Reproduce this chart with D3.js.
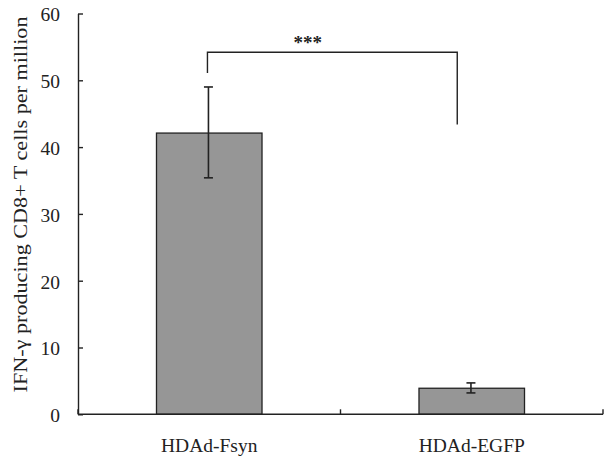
<!DOCTYPE html>
<html>
<head>
<meta charset="utf-8">
<script src="https://cdn.jsdelivr.net/npm/d3@7"></script>
<style>
  html, body { margin: 0; padding: 0; background: #fff; }
  svg { display: block; }
  text { font-family: "Liberation Serif", "Times New Roman", serif; fill: #222; }
</style>
</head>
<body>
<svg id="chart" width="609" height="460"></svg>
<script>
// ---- data ----
const categories = ["HDAd-Fsyn", "HDAd-EGFP"];
const means = [42.1, 3.9];
const errUpper = [49.0, 4.7];
const errLower = [35.4, 3.2];
const yTicks = [0, 10, 20, 30, 40, 50, 60];
const yLabel = "IFN-\u03b3 producing CD8+ T cells per million";
// significance bracket (values in data units)
const bracketTop = 54.2;
const bracketLeftEnd = 51.1;
const bracketRightEnd = 43.4;
const bracketLabel = "***";

(function () {
// ---- layout ----
const svg = d3.select("#chart");
const mLeft = 78, mRight = 603, mTop = 13.5, mBottom = 414.3;

const x = d3.scaleBand().domain(categories).range([mLeft, mRight])
  .paddingInner(0.598).paddingOuter(0.299);
const y = d3.scaleLinear().domain([0, 60]).range([mBottom, mTop]);

const ink = "#222";

// bars
svg.selectAll("rect.bar").data(categories).enter().append("rect")
  .attr("class", "bar")
  .attr("x", d => x(d))
  .attr("y", (d, i) => y(means[i]))
  .attr("width", x.bandwidth())
  .attr("height", (d, i) => y(0) - y(means[i]))
  .attr("fill", "#969696")
  .attr("stroke", ink)
  .attr("stroke-width", 1.3);

// error bars
const cap = 4.5;
const eb = svg.append("g").attr("stroke", ink).attr("stroke-width", 1.6);
categories.forEach((c, i) => {
  const cx = x(c) + x.bandwidth() / 2 - 0.8;
  eb.append("line").attr("x1", cx).attr("x2", cx).attr("y1", y(errUpper[i])).attr("y2", y(errLower[i]));
  eb.append("line").attr("x1", cx - cap).attr("x2", cx + cap).attr("y1", y(errUpper[i])).attr("y2", y(errUpper[i]));
  eb.append("line").attr("x1", cx - cap).attr("x2", cx + cap).attr("y1", y(errLower[i])).attr("y2", y(errLower[i]));
});

// y axis
const yAxis = d3.axisLeft(y).tickValues(yTicks).tickSize(-5).tickPadding(18).tickSizeOuter(0);
const gy = svg.append("g").attr("transform", `translate(${mLeft},0)`).call(yAxis);
gy.select(".domain").attr("stroke", ink).attr("stroke-width", 1.4);
gy.selectAll(".tick line").attr("stroke", ink).attr("stroke-width", 1.4);
gy.selectAll(".tick text")
  .style("font-family", '"Liberation Serif", serif')
  .style("font-size", "19.5px").attr("fill", "#222").attr("dy", "0.38em");

// x axis (category boundaries ticks pointing up)
svg.append("line").attr("x1", mLeft).attr("x2", mRight).attr("y1", mBottom).attr("y2", mBottom)
  .attr("stroke", ink).attr("stroke-width", 1.4);
const step = x.step();
const boundaries = d3.range(categories.length + 1).map(k => mLeft + k * step);
svg.selectAll("line.xtick").data(boundaries).enter().append("line")
  .attr("class", "xtick")
  .attr("x1", d => d).attr("x2", d => d)
  .attr("y1", mBottom).attr("y2", mBottom - 5)
  .attr("stroke", ink).attr("stroke-width", 1.4);

svg.selectAll("text.xlab").data(categories).enter().append("text")
  .attr("class", "xlab")
  .attr("x", d => x(d) + x.bandwidth() / 2)
  .attr("y", 452)
  .attr("text-anchor", "middle")
  .style("font-size", "19.5px")
  .text(d => d);

// y label
svg.append("text")
  .attr("transform", `translate(27,${(15 + 394) / 2}) rotate(-90)`)
  .attr("text-anchor", "middle")
  .style("font-size", "19.5px")
  .attr("textLength", 376)
  .attr("lengthAdjust", "spacingAndGlyphs")
  .text(yLabel);

// significance bracket
const bx1 = x(categories[0]) + x.bandwidth() / 2 - 1.8;
const bx2 = x(categories[1]) + x.bandwidth() / 2 - 14.5;
svg.append("path")
  .attr("d", `M${bx1},${y(bracketLeftEnd)}V${y(bracketTop)}H${bx2}V${y(bracketRightEnd)}`)
  .attr("fill", "none").attr("stroke", ink).attr("stroke-width", 1.4);
svg.append("text")
  .attr("x", (bx1 + bx2) / 2 - 24.5)
  .attr("y", y(bracketTop) - 3)
  .attr("text-anchor", "middle")
  .style("font-size", "19px")
  .style("font-weight", "bold")
  .text(bracketLabel);
})();
</script>
</body>
</html>
